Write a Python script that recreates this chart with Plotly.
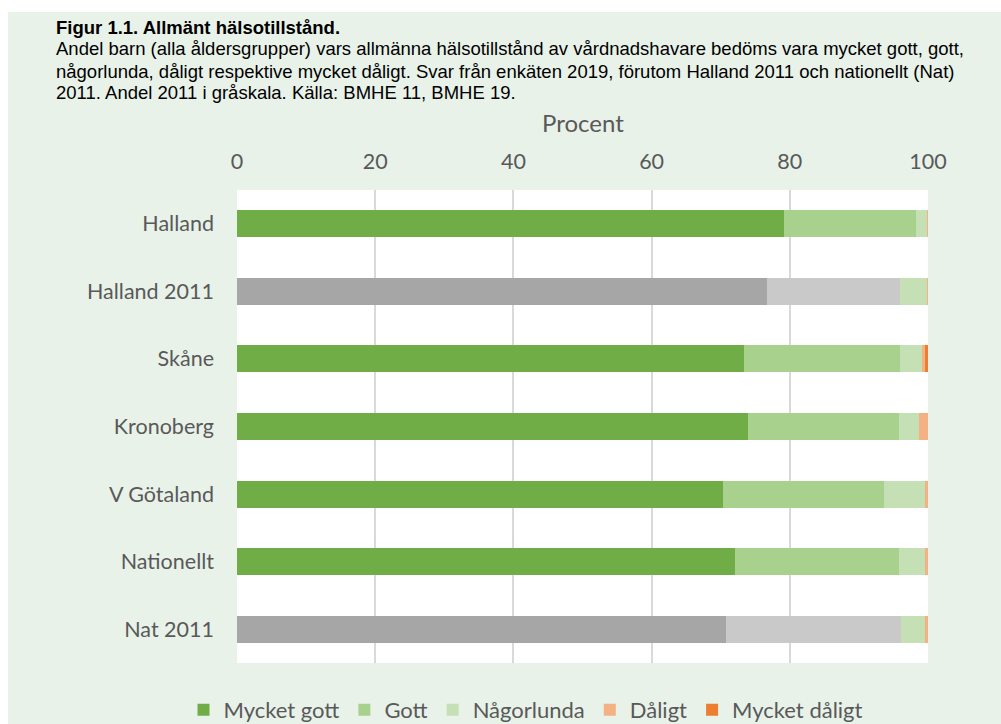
import plotly.graph_objects as go

# ---- data ----
categories = ["Halland", "Halland 2011", "Skåne", "Kronoberg", "V Götaland", "Nationellt", "Nat 2011"]
is_2011 = [False, True, False, False, False, False, True]
mycket_gott = [79.2, 76.7, 73.3, 74.0, 70.4, 72.0, 70.8]
gott = [19.1, 19.3, 22.7, 21.8, 23.2, 23.8, 25.3]
nagorlunda = [1.6, 3.9, 3.2, 2.9, 5.9, 3.7, 3.4]
daligt = [0.1, 0.1, 0.3, 1.3, 0.5, 0.5, 0.5]
mycket_daligt = [0.0, 0.0, 0.5, 0.0, 0.0, 0.0, 0.0]
series_names = ["Mycket gott", "Gott", "Någorlunda", "Dåligt", "Mycket dåligt"]
x_ticks = [0, 20, 40, 60, 80, 100]

title_bold = "Figur 1.1. Allmänt hälsotillstånd."
title_lines = [
    "Andel barn (alla åldersgrupper) vars allmänna hälsotillstånd av vårdnadshavare bedöms vara mycket gott, gott,",
    "någorlunda, dåligt respektive mycket dåligt. Svar från enkäten 2019, förutom Halland 2011 och nationellt (Nat)",
    "2011. Andel 2011 i gråskala. Källa: BMHE 11, BMHE 19.",
]

# ---- styles ----
green_cols = ["#70AD47", "#A9D18E", "#C5E0B4", "#F4B183", "#ED7D31"]
gray_cols = ["#A6A6A6", "#C9C9C9", "#C5E0B4", "#F4B183", "#ED7D31"]
PANEL = "#E8F2E9"
TXT = "#595959"
FONT = "Lato"
TFONT = "Liberation Sans, Arial"

W, H = 1001, 724
L, R, T, B = 237, 928, 190, 663


def px(x):
    return (x - L) / (R - L)


def py(y):
    return (B - y) / (B - T)


fig = go.Figure()
values = [mycket_gott, gott, nagorlunda, daligt, mycket_daligt]
for i, (name, vals) in enumerate(zip(series_names, values)):
    colors = [gray_cols[i] if g else green_cols[i] for g in is_2011]
    fig.add_trace(go.Bar(
        y=categories, x=vals, name=name, orientation="h",
        marker=dict(color=colors, line=dict(width=0)),
        hoverinfo="x+y+name",
    ))

annotations = [
    dict(text="Procent", x=px(582.5), y=py(123), xref="paper", yref="paper",
         showarrow=False, xanchor="center", yanchor="middle",
         font=dict(family=FONT, size=24, color=TXT)),
    dict(text="<b>" + title_bold + "</b>", x=px(54), y=py(27), xref="paper", yref="paper",
         showarrow=False, xanchor="left", yanchor="middle",
         font=dict(family=TFONT, size=18.5, color="#000000")),
]
for k, line in enumerate(title_lines):
    annotations.append(dict(
        text=line, x=px(54), y=py(49 + 22 * k), xref="paper", yref="paper",
        showarrow=False, xanchor="left", yanchor="middle",
        font=dict(family=TFONT, size=18.5, color="#000000")))

shapes = [
    dict(type="rect", xref="paper", yref="paper", x0=px(8), x1=px(W + 10), y0=py(H + 10), y1=py(12),
         fillcolor=PANEL, line=dict(width=0), layer="below"),
    dict(type="rect", xref="paper", yref="paper", x0=0, x1=1, y0=0, y1=1,
         fillcolor="white", line=dict(width=0), layer="below"),
]

fig.update_layout(
    width=W, height=H,
    margin=dict(l=L, r=W - R, t=T, b=H - B, pad=0),
    paper_bgcolor="white", plot_bgcolor="white",
    barmode="stack", bargap=0.6,
    font=dict(family=FONT, color=TXT),
    showlegend=True,
    legend=dict(orientation="h", xref="container", yref="container",
                x=526 / W, y=(H - 710) / H, xanchor="center", yanchor="middle",
                font=dict(family=FONT, size=22, color=TXT), bgcolor="rgba(0,0,0,0)",
                traceorder="normal", itemwidth=30),
    annotations=annotations,
    shapes=shapes,
    xaxis=dict(side="top", range=[0, 100], tickvals=x_ticks, ticktext=[str(v) for v in x_ticks],
               showgrid=True, gridcolor="#D9D9D9", gridwidth=2, zeroline=False, showline=False,
               ticks="", ticklabelstandoff=16, tickfont=dict(family=FONT, size=21.5, color=TXT),
               fixedrange=True),
    yaxis=dict(autorange="reversed", ticks="", showgrid=False, zeroline=False, showline=False,
               ticklabelstandoff=22, tickfont=dict(family=FONT, size=21.5, color=TXT),
               fixedrange=True),
)

fig.write_html("out.html")
